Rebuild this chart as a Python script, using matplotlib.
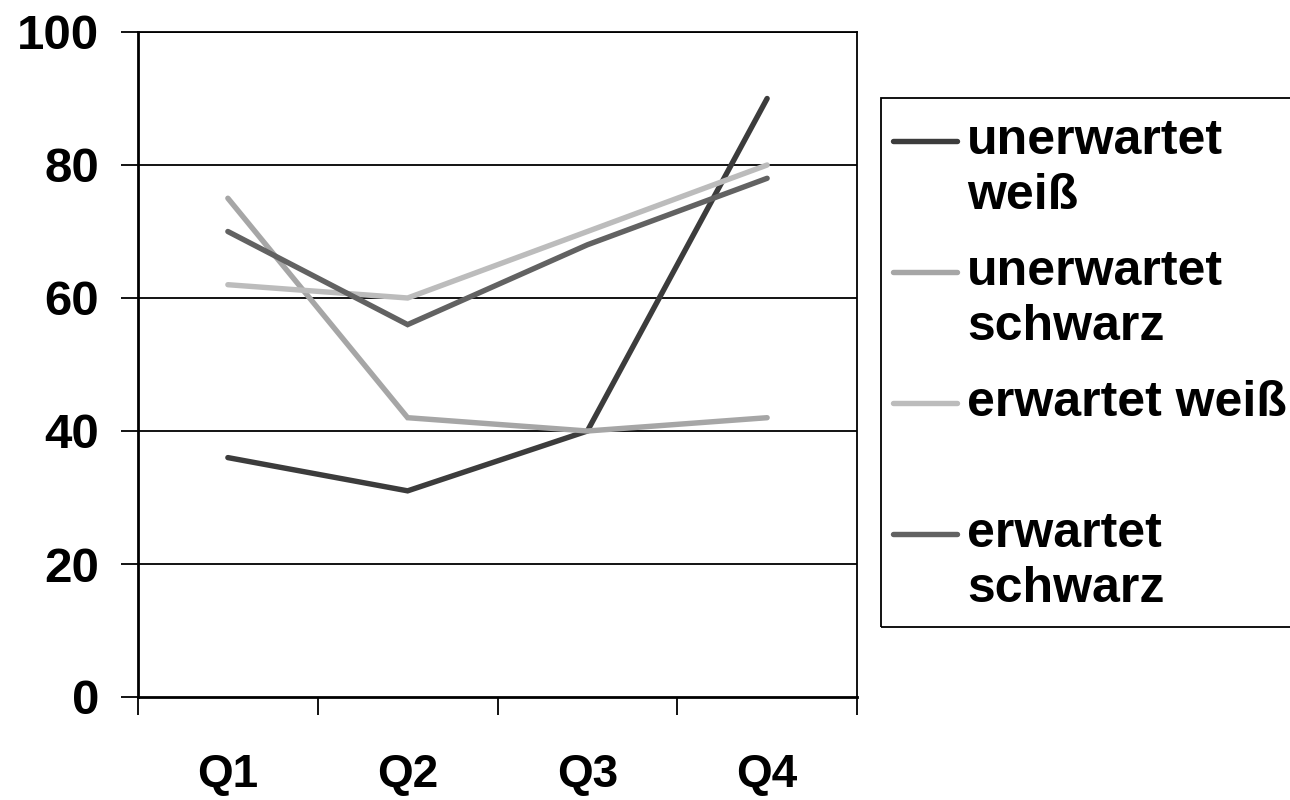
import matplotlib
matplotlib.use("Agg")
import matplotlib.pyplot as plt
from matplotlib.lines import Line2D
from matplotlib.patches import Rectangle

plt.rcParams['font.family'] = ['Liberation Sans', 'DejaVu Sans']

# Data
quarters = ["Q1", "Q2", "Q3", "Q4"]
series_labels = ["unerwartet\nweiß", "unerwartet\nschwarz", "erwartet weiß", "erwartet\nschwarz"]
unerwartet_weiss = [36, 31, 40, 90]
unerwartet_schwarz = [75, 42, 40, 42]
erwartet_weiss = [62, 60, 70, 80]
erwartet_schwarz = [70, 56, 68, 78]
y_ticks = [0, 20, 40, 60, 80, 100]

series = [unerwartet_weiss, unerwartet_schwarz, erwartet_weiss, erwartet_schwarz]
colors = ["#3c3c3c", "#a6a6a6", "#bcbcbc", "#626262"]

W, H = 1290, 800
fig = plt.figure(figsize=(W / 100, H / 100), dpi=100)
ax = fig.add_axes([138 / W, 1 - 697 / H, (857 - 138) / W, (697 - 32) / H])

xpos = [i + 0.5 for i in range(len(quarters))]
for vals, col in zip(series, colors):
    ax.plot(xpos, vals, color=col, lw=3.9, solid_capstyle='round',
            solid_joinstyle='miter', zorder=3)

ax.set_xlim(0, len(quarters))
ax.set_ylim(0, 100)

# Horizontal grid
for y in y_ticks[1:]:
    ax.axhline(y, color="black", lw=1.3, zorder=1)

ax.set_yticks(y_ticks)
ax.set_yticklabels([str(v) for v in y_ticks], fontsize=35.5, fontweight='bold')
ax.tick_params(axis='y', direction='out', length=12, width=1.3, pad=16)

# Category boundaries as major ticks, labels on minor ticks
ax.set_xticks(range(len(quarters) + 1))
ax.set_xticklabels([])
ax.set_xticks(xpos, minor=True)
ax.set_xticklabels(quarters, minor=True, fontsize=33, fontweight='bold')
ax.tick_params(axis='x', which='major', direction='out', length=13, width=1.3)
ax.tick_params(axis='x', which='minor', length=0, pad=40)

for side in ['left', 'bottom']:
    ax.spines[side].set_linewidth(2.0)
for side in ['top', 'right']:
    ax.spines[side].set_linewidth(1.3)
for s in ax.spines.values():
    s.set_color("black")

# Legend box
fig.add_artist(Rectangle((881 / W, 1 - 627 / H), (W - 881 + 5) / W, (627 - 98) / H,
                         transform=fig.transFigure, fill=False,
                         edgecolor="black", lw=1.3, clip_on=False))
entry_y = [141, 272, 403, 534]
for lab, col, yy in zip(series_labels, colors, entry_y):
    yf = 1 - yy / H
    fig.add_artist(Line2D([893 / W, 957 / W], [yf, yf], transform=fig.transFigure,
                          color=col, lw=3.9, solid_capstyle='round'))
    fig.text(967 / W, 1 - (yy - 23) / H, lab, fontsize=36, fontweight='bold',
             ha='left', va='top', linespacing=1.25)

fig.savefig("out.png", dpi=100, facecolor="white")
